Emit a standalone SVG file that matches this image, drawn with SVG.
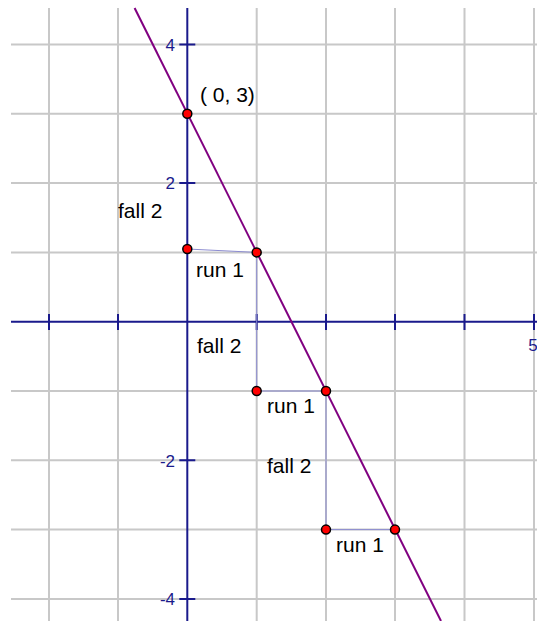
<svg xmlns="http://www.w3.org/2000/svg" width="537" height="621" viewBox="0 0 537 621">
<style>
.grid{stroke:#c8c8c8;stroke-width:2;fill:none}
.axis{stroke:#1a1a8c;stroke-width:2;fill:none}
.lab{font-family:"Liberation Sans",Arial,sans-serif;font-size:17px;fill:#1a1a8c}
.txt{font-family:"Liberation Sans",Arial,sans-serif;font-size:21px;fill:#000}
.step{stroke:#8c8cd0;stroke-width:1;fill:none}
.pt{fill:#ff0000;stroke:#000;stroke-width:1.5}
</style>
<rect width="537" height="621" fill="#fff"/>
<g id="grid">
<path class="grid" d="M49 8V621M118 8V621M256.7 8V621M326 8V621M395 8V621M464.5 8V621M534 8V621"/>
<path class="grid" d="M11 44.5H537M11 113.8H537M11 183.1H537M11 252.4H537M11 391H537M11 460.3H537M11 529.6H537M11 598.9H537"/>
</g>
<g id="axes">
<path class="axis" d="M11 321.7H537M187.3 8V621"/>
<path class="axis" d="M49 314V330M118 314V330M256.7 314V330M326 314V330M395 314V330M464.5 314V330M534 314V330"/>
<path class="axis" d="M179.3 44.5H195.3M179.3 183.1H195.3M179.3 460.3H195.3M179.3 598.9H195.3"/>
<text class="lab" x="175" y="50.5" text-anchor="end">4</text>
<text class="lab" x="175" y="189" text-anchor="end">2</text>
<text class="lab" x="175" y="466.5" text-anchor="end">-2</text>
<text class="lab" x="175" y="605" text-anchor="end">-4</text>
<text class="lab" x="533" y="351" text-anchor="middle">5</text>
</g>
<g id="connectors">
<line x1="134.6" y1="8" x2="441" y2="621" stroke="#800080" stroke-width="2"/>
<path class="step" d="M187.3 249L256.7 252.4V391H326V529.6H395"/>
</g>
<g id="p03"><circle class="pt" cx="187.3" cy="113.8" r="4.5"/></g>
<g id="p01"><circle class="pt" cx="187.3" cy="249" r="4.5"/></g>
<g id="p11"><circle class="pt" cx="256.7" cy="252.4" r="4.5"/></g>
<g id="p1m1"><circle class="pt" cx="256.7" cy="391" r="4.5"/></g>
<g id="p2m1"><circle class="pt" cx="326" cy="391" r="4.5"/></g>
<g id="p2m3"><circle class="pt" cx="326" cy="529.6" r="4.5"/></g>
<g id="p3m3"><circle class="pt" cx="395" cy="529.6" r="4.5"/></g>
<g id="labels">
<text class="txt" x="200" y="102">( 0, 3)</text>
<text class="txt" x="118" y="218">fall 2</text>
<text class="txt" x="196" y="277">run 1</text>
<text class="txt" x="197" y="353">fall 2</text>
<text class="txt" x="267" y="413">run 1</text>
<text class="txt" x="267" y="473">fall 2</text>
<text class="txt" x="336" y="552">run 1</text>
</g>
</svg>
